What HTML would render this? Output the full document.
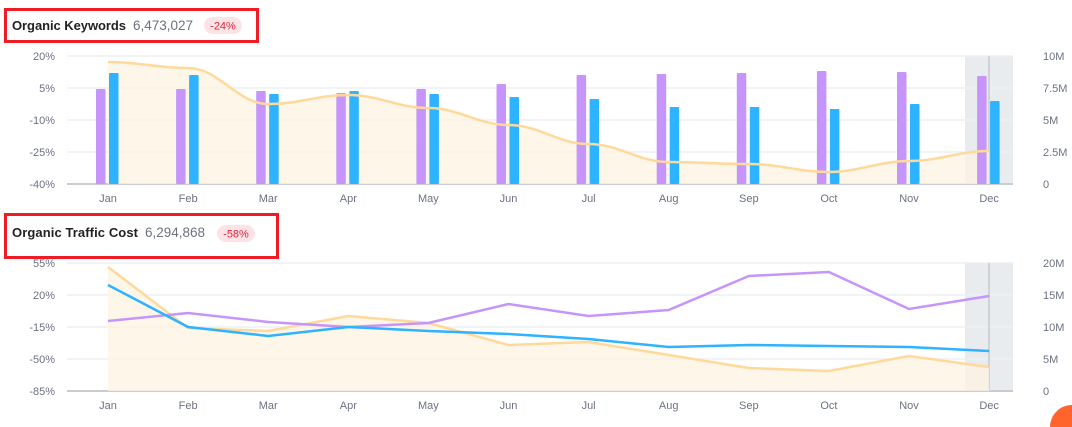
<!DOCTYPE html>
<html><head><meta charset="utf-8"><style>
html,body{margin:0;padding:0;background:#fff;width:1072px;height:427px;overflow:hidden;font-family:"Liberation Sans",sans-serif}
svg{display:block;overflow:hidden}
svg text{font-family:"Liberation Sans",sans-serif}
</style></head><body>
<svg id="s" width="1072" height="427" xmlns="http://www.w3.org/2000/svg">
<rect x="5.5" y="9.5" width="252" height="32" fill="none" stroke="#ee1c25" stroke-width="3"/>
<text x="12" y="30" font-size="13" font-weight="bold" fill="#222" textLength="114">Organic Keywords</text>
<text x="133" y="30" font-size="13.5" fill="#6b7280">6,473,027</text>
<rect x="204" y="17" width="38" height="17" rx="8.5" fill="#fde3e6"/>
<text x="223" y="29.5" font-size="11" fill="#e0283f" text-anchor="middle">-24%</text>
<rect x="5.5" y="214.5" width="272" height="43" fill="none" stroke="#ee1c25" stroke-width="3"/>
<text x="12" y="237" font-size="13" font-weight="bold" fill="#222" textLength="126">Organic Traffic Cost</text>
<text x="145" y="237" font-size="13.5" fill="#6b7280">6,294,868</text>
<rect x="217" y="225" width="38" height="17" rx="8.5" fill="#fde3e6"/>
<text x="236" y="237.5" font-size="11" fill="#e0283f" text-anchor="middle">-58%</text>
<g id="g"></g>
<path d="M1072,405 A22,22 0 0 0 1050,427 L1072,427 Z" fill="#ff642d"/>
</svg>
<script>
const M=["Jan","Feb","Mar","Apr","May","Jun","Jul","Aug","Sep","Oct","Nov","Dec"];
const X=M.map((m,i)=>108+i*80.1);
let h="";
function smooth(ys){let p=`M${X[0]},${ys[0]}`;for(let i=0;i<11;i++){const x0=X[i],x1=X[i+1],dx=(x1-x0)/2.6;p+=` C${x0+dx},${ys[i]} ${x1-dx},${ys[i+1]} ${x1},${ys[i+1]}`;}return p;}
function lin(ys){return "M"+X.map((x,i)=>x+","+ys[i]).join(" L");}
function chart(top,left,right,yl,isBar){
 const bot=top+128;
 h+=`<rect x="965" y="${top}" width="48" height="128" fill="#e9ecee"/>`;
 for(let i=0;i<5;i++){const y=top+i*32;h+=`<line x1="67" x2="1013" y1="${y}" y2="${y}" stroke="${i==4?'#c9cdd1':'#eeeff1'}" stroke-width="${i==4?2:1.5}"/>`;
 h+=`<text x="55" y="${y+4}" font-size="11" fill="#6b7280" text-anchor="end">${left[i]}</text>`;
 h+=`<text x="1043" y="${y+4}" font-size="11" fill="#6b7280">${right[i]}</text>`;}
 h+=`<line x1="989" x2="989" y1="${top}" y2="${bot}" stroke="#cfd3d6" stroke-width="2"/>`;
 const yp=isBar?smooth(yl):lin(yl);
 h+=`<path d="${yp} L${X[11]},${bot} L${X[0]},${bot} Z" fill="#fdf3e1" opacity="0.75"/>`;
 M.forEach((m,i)=>h+=`<text x="${X[i]}" y="${bot+18}" font-size="11" fill="#6b7280" text-anchor="middle">${m}</text>`);
 return {yp,bot};
}
let a=chart(56,["20%","5%","-10%","-25%","-40%"],["10M","7.5M","5M","2.5M","0"],[62,68,104,95,108,125,144,162,164,172,161,151],true);
const P=[89,89,91,93,89,84,75,74,73,71,72,76],B=[73,75,94,91,94,97,99,107,107,109,104,101];
X.forEach((x,i)=>{h+=`<rect x="${x-12}" y="${P[i]}" width="9.5" height="${184-P[i]}" rx="1" fill="#c595fb"/>`;h+=`<rect x="${x+1}" y="${B[i]}" width="9.5" height="${184-B[i]}" rx="1" fill="#2db3ff"/>`;});
h+=`<path d="${a.yp}" fill="none" stroke="#ffd99a" stroke-width="2.5"/>`;
let b=chart(263,["55%","20%","-15%","-50%","-85%"],["20M","15M","10M","5M","0"],[267,328,331,316,323,345,342,355,368,371,356,367],false);
h+=`<path d="${b.yp}" fill="none" stroke="#ffd99a" stroke-width="2.5"/>`;
h+=`<path d="${lin([321,313,322,327,323,304,316,310,276,272,309,296])}" fill="none" stroke="#c595fb" stroke-width="2.5"/>`;
h+=`<path d="${lin([285,327,336,327,331,334,339,347,345,346,347,351])}" fill="none" stroke="#2db3ff" stroke-width="2.5"/>`;
document.getElementById("g").innerHTML=h;
</script>
</body></html>
